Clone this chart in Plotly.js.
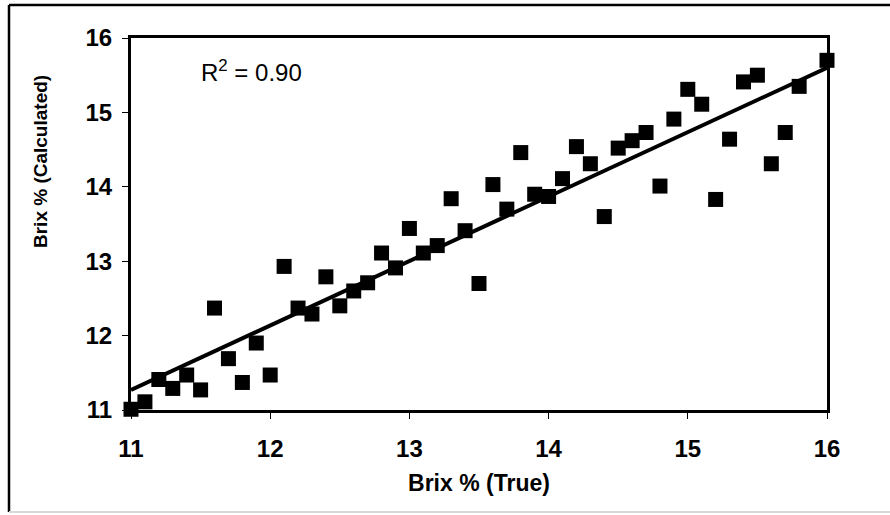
<!DOCTYPE html>
<html>
<head>
<meta charset="utf-8">
<script src="https://cdn.plot.ly/plotly-3.0.1.min.js"></script>
<style>html,body{margin:0;padding:0;background:#fff;}#chart{width:890px;height:515px;}</style>
</head>
<body>
<div id="chart"></div>
<script>
// Brix % (True) values
const brixTrue = [11.0, 11.1, 11.2, 11.3, 11.4, 11.5, 11.6, 11.7, 11.8, 11.9,
                  12.0, 12.1, 12.2, 12.3, 12.4, 12.5, 12.6, 12.7, 12.8, 12.9,
                  13.0, 13.1, 13.2, 13.3, 13.4, 13.5, 13.6, 13.7, 13.8, 13.9,
                  14.0, 14.1, 14.2, 14.3, 14.4, 14.5, 14.6, 14.7, 14.8, 14.9,
                  15.0, 15.1, 15.2, 15.3, 15.4, 15.5, 15.6, 15.7, 15.8, 16.0];
// Brix % (Calculated) values
const brixCalc = [11.01, 11.11, 11.41, 11.29, 11.47, 11.27, 12.37, 11.69, 11.37, 11.90,
                  11.47, 12.93, 12.37, 12.29, 12.79, 12.40, 12.60, 12.71, 13.11, 12.91,
                  13.44, 13.11, 13.21, 13.84, 13.41, 12.70, 14.03, 13.70, 14.46, 13.90,
                  13.87, 14.11, 14.54, 14.31, 13.60, 14.52, 14.62, 14.73, 14.01, 14.91,
                  15.31, 15.11, 13.83, 14.64, 15.41, 15.50, 14.31, 14.73, 15.35, 15.70];
// Trend line endpoints
const fitX = [11, 16];
const fitY = [11.27, 15.6];
const tickVals = [11, 12, 13, 14, 15, 16];
const tickText = ['11', '12', '13', '14', '15', '16'];

const FONT = 'Liberation Sans, Arial, sans-serif';

const traces = [
  {
    x: fitX, y: fitY, type: 'scatter', mode: 'lines',
    line: {color: '#000', width: 4}, hoverinfo: 'skip', showlegend: false
  },
  {
    x: brixTrue, y: brixCalc, type: 'scatter', mode: 'markers',
    marker: {symbol: 'square', size: 15, color: '#000', line: {width: 0}},
    showlegend: false, cliponaxis: false
  }
];

const axisCommon = {
  range: [11, 16],
  tickvals: tickVals, ticktext: tickText,
  showgrid: false, zeroline: false,
  showline: true, linecolor: '#000', linewidth: 3, mirror: true,
  ticks: 'outside', ticklen: 6, tickwidth: 1, tickcolor: '#000',
  tickfont: {family: FONT, size: 24, color: '#000', weight: 'bold'}
};

const layout = {
  width: 890, height: 515,
  paper_bgcolor: '#fff', plot_bgcolor: '#fff',
  margin: {l: 131, r: 63, t: 38, b: 105},
  xaxis: Object.assign({}, axisCommon, {
    ticklabelstandoff: 9,
    title: {text: 'Brix % (True)', font: {family: FONT, size: 23, color: '#000', weight: 'bold'}, standoff: 15}
  }),
  yaxis: Object.assign({}, axisCommon, {
    ticklabelstandoff: 5
  }),
  annotations: [
    {
      xref: 'paper', yref: 'paper', x: (40 - 131) / 696, y: (410 - 162) / 372,
      text: 'Brix % (Calculated)', textangle: -90, showarrow: false,
      font: {family: FONT, size: 19, color: '#000', weight: 'bold'},
      xanchor: 'center', yanchor: 'middle'
    },
    {
      xref: 'paper', yref: 'paper', x: (199 - 131) / 696, y: (410 - 71) / 372,
      text: 'R<sup>2</sup> = 0.90', showarrow: false,
      font: {family: FONT, size: 24, color: '#000'},
      xanchor: 'left', yanchor: 'middle'
    }
  ],
  shapes: [
    {type: 'line', xref: 'paper', yref: 'paper',
     x0: (9 - 131) / 696, x1: (9 - 131) / 696, y0: (410 - 512) / 372, y1: (410 - 5) / 372,
     line: {color: '#000', width: 2.5}},
    {type: 'line', xref: 'paper', yref: 'paper',
     x0: (9 - 131) / 696, x1: (890 - 131) / 696, y0: (410 - 5) / 372, y1: (410 - 5) / 372,
     line: {color: '#000', width: 2.5}},
    {type: 'line', xref: 'paper', yref: 'paper',
     x0: (9 - 131) / 696, x1: (890 - 131) / 696, y0: (410 - 512) / 372, y1: (410 - 512) / 372,
     line: {color: '#d8d8d8', width: 2}}
  ]
};

Plotly.newPlot('chart', traces, layout, {displayModeBar: false, staticPlot: true});
</script>
</body>
</html>
